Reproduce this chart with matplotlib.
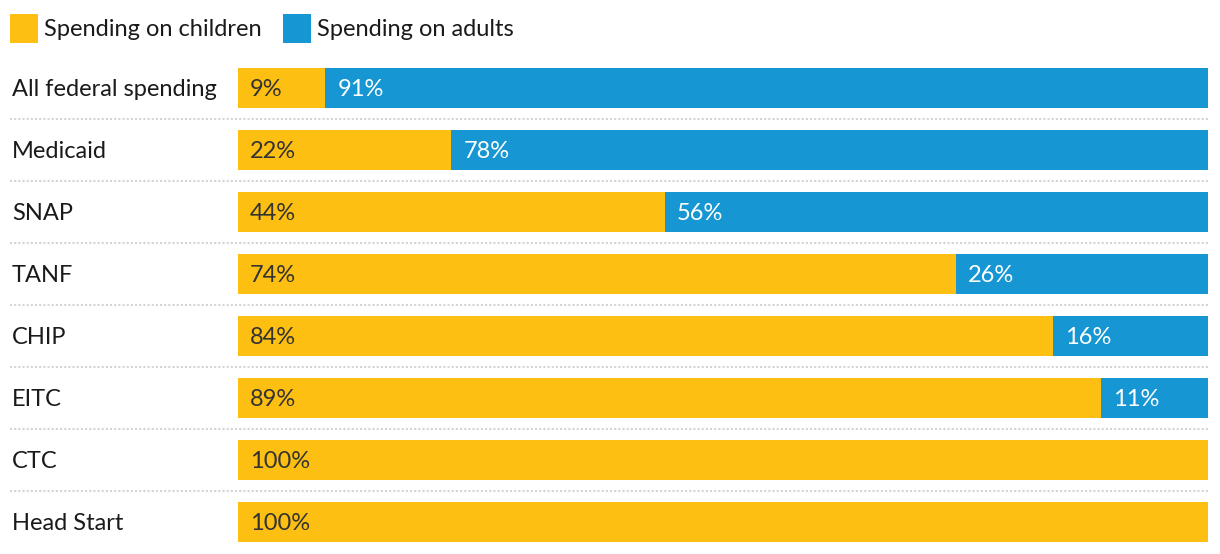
import matplotlib.pyplot as plt
from matplotlib.patches import Rectangle
from matplotlib.transforms import offset_copy

categories = ["All federal spending", "Medicaid", "SNAP", "TANF", "CHIP",
              "EITC", "CTC", "Head Start"]
children = [9, 22, 44, 74, 84, 89, 100, 100]
adults = [91, 78, 56, 26, 16, 11, 0, 0]
series_names = ["Spending on children", "Spending on adults"]

YELLOW = "#fdbf11"
BLUE = "#1696d2"

plt.rcParams["font.family"] = ["Lato", "DejaVu Sans"]

W, H = 1220, 554
fig = plt.figure(figsize=(W / 100, H / 100), dpi=100)

# axes spans the bar area in pixels: x 238..1208, rows centred at 88 + 62*i
left, right = 238, 1208
top, bottom = 57, 553
ax = fig.add_axes([left / W, 1 - bottom / H, (right - left) / W, (bottom - top) / H])

n = len(categories)
ys = list(range(n))
bh = 40 / 62
ax.barh(ys, children, height=bh, color=YELLOW, linewidth=0)
ax.barh(ys, adults, left=children, height=bh, color=BLUE, linewidth=0)

ax.set_xlim(0, 100)
ax.set_ylim(n - 0.5, -0.5)
ax.axis("off")

pad = 12 / (right - left) * 100
fs = 17
down = offset_copy(ax.transData, fig=fig, x=0, y=-1.5, units="dots")
for i, (c, a) in enumerate(zip(children, adults)):
    if c > 0:
        ax.text(pad, i, f"{c}%", va="center", ha="left", fontsize=fs,
                color="#333333", transform=down)
    if a > 0:
        ax.text(c + pad, i, f"{a}%", va="center", ha="left", fontsize=fs,
                color="white", transform=down)

lab_x = (12 - left) / (right - left)
ytr = offset_copy(ax.get_yaxis_transform(), fig=fig, x=0, y=-1.5, units="dots")
for i, name in enumerate(categories):
    ax.text(lab_x, i, name, transform=ytr, va="center",
            ha="left", fontsize=fs, color="#1a1a1a")

line_x0 = (10 - left) / (right - left)
for i in range(n - 1):
    ax.axhline(i + 0.5, xmin=line_x0, xmax=1, color="#d4d4d4", linewidth=1.5,
               linestyle=(0, (1, 1)), clip_on=False)

# legend
lx = 10
for name, col in zip(series_names, [YELLOW, BLUE]):
    fig.add_artist(Rectangle((lx / W, 1 - 43 / H), 28 / W, 29 / H,
                             transform=fig.transFigure, color=col, linewidth=0))
    t = fig.text((lx + 34) / W, 1 - 29 / H, name, va="center", ha="left",
                 fontsize=fs, color="#1a1a1a")
    fig.canvas.draw()
    bb = t.get_window_extent()
    lx = bb.x1 + 21

fig.savefig("out.png", dpi=100)
